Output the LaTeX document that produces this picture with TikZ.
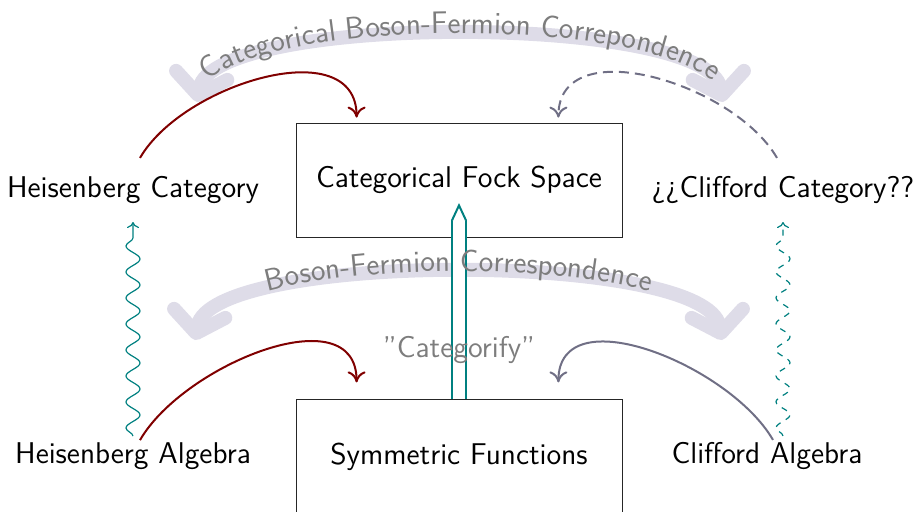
\documentclass[tikz,border=0pt]{standalone}
\usetikzlibrary{arrows.meta, positioning, calc, decorations.pathmorphing, decorations.text}
\definecolor{heisRed}  {RGB}{128, 0,   0}
\definecolor{cliffGray}{RGB}{112, 111, 133}
\definecolor{catTeal}  {RGB}{0,   128, 128}
\definecolor{bandLav}  {RGB}{222, 220, 232}
\definecolor{lblGray}  {RGB}{125, 125, 125}

\begin{document}
\begin{tikzpicture}[
  x=0.5pt, y=0.5pt,
  font=\fontsize{15}{18}\selectfont\sffamily,
  box/.style = {
    rectangle, draw=black!85,
    minimum width=163pt, minimum height=57pt
  },
  word/.style = {inner sep=3pt},
  lbl/.style = {text=lblGray},
  band/.style = {
    line width=7pt, bandLav, line cap=round,
    {Straight Barb[round, length=10pt, width=26pt]}-{Straight Barb[round, length=10pt, width=26pt]}
  },
  bandtext/.style = {
    decorate, decoration={text along path, text align=center, raise=1pt,
      text={|\fontsize{15.5}{18}\selectfont\sffamily\color{lblGray}|#1}}
  },
  harr/.style = {-{Computer Modern Rightarrow[length=5.5pt, width=9pt]}, line width=1pt, heisRed},
  carr/.style = {harr, cliffGray},
  wavy/.style = {
    -{To[length=3pt, width=6pt]}, semithick, catTeal, decorate,
    decoration={snake, amplitude=3.5pt, segment length=13pt, post length=3pt}
  },
  dbl/.style = {catTeal, line width=1pt, double=white, double distance=6pt}
]
  \useasboundingbox (0,0) rectangle (916,512);

  \coordinate (catL) at (197,410);
  \coordinate (catR) at (723,410);
  \coordinate (bfL)  at (195,172);
  \coordinate (bfR)  at (722,172);

  % Correspondence arrows
  \draw[band] (catL) to[out=80, in=100, looseness=0.44] (catR);
  \draw[band] (bfL)  to[out=80, in=100, looseness=0.44] (bfR);

  \node[box] (fock) at (459,332) {Categorical Fock Space};
  \node[box, below=81pt of fock] (symf) {Symmetric Functions};
  \node[word] (hCat) at (133,322) {Heisenberg Category};
  \node[word] (hAlg) at (133,56)  {Heisenberg Algebra};
  \node[word] (cCat) at (783,322) {¿¿Clifford Category??};
  \node[word] (cAlg) at (767,56)  {Clifford Algebra};

  \draw[harr] ([shift={(7,12)}]hCat.north) to[out=60, in=90] ($(fock.north west)+(61,5)$);
  \draw[harr] ([shift={(7,-4)}]hAlg.north) to[out=60, in=90] ($(symf.north west)+(61,17)$);
  \draw[carr, dash pattern=on 5pt off 3pt]
    ([shift={(-6,12)}]cCat.north) to[out=120, in=90] ($(fock.north east)+(-64,5)$);
  \draw[carr] ([shift={(6,-4)}]cAlg.north) to[out=120, in=90] ($(symf.north east)+(-64,17)$);

  \draw[wavy] (hAlg.north) -- ([yshift=-6pt]hCat.south);
  \draw[wavy, dashed] (cCat.south |- cAlg.north) -- ([yshift=-6pt]cCat.south);

  % Categorify
  \coordinate (dblTip) at ($(fock.south)+(0,32)$);
  \draw[dbl] (symf.north) -- ([yshift=-7.5pt]dblTip);
  \draw[catTeal, line width=1pt, fill=white]
    ([shift={(-7,-15)}]dblTip) -- (dblTip) -- ([shift={(7,-15)}]dblTip);

  \path[bandtext={Categorical Boson-Fermion Correpondence}] (catL) to[out=80, in=100, looseness=0.44] (catR);
  \path[bandtext={Boson-Fermion Correspondence}] (bfL) to[out=80, in=100, looseness=0.44] (bfR);

  \node[lbl] (catfy) at (459,162) {''Categorify''};
\end{tikzpicture}
\end{document}
